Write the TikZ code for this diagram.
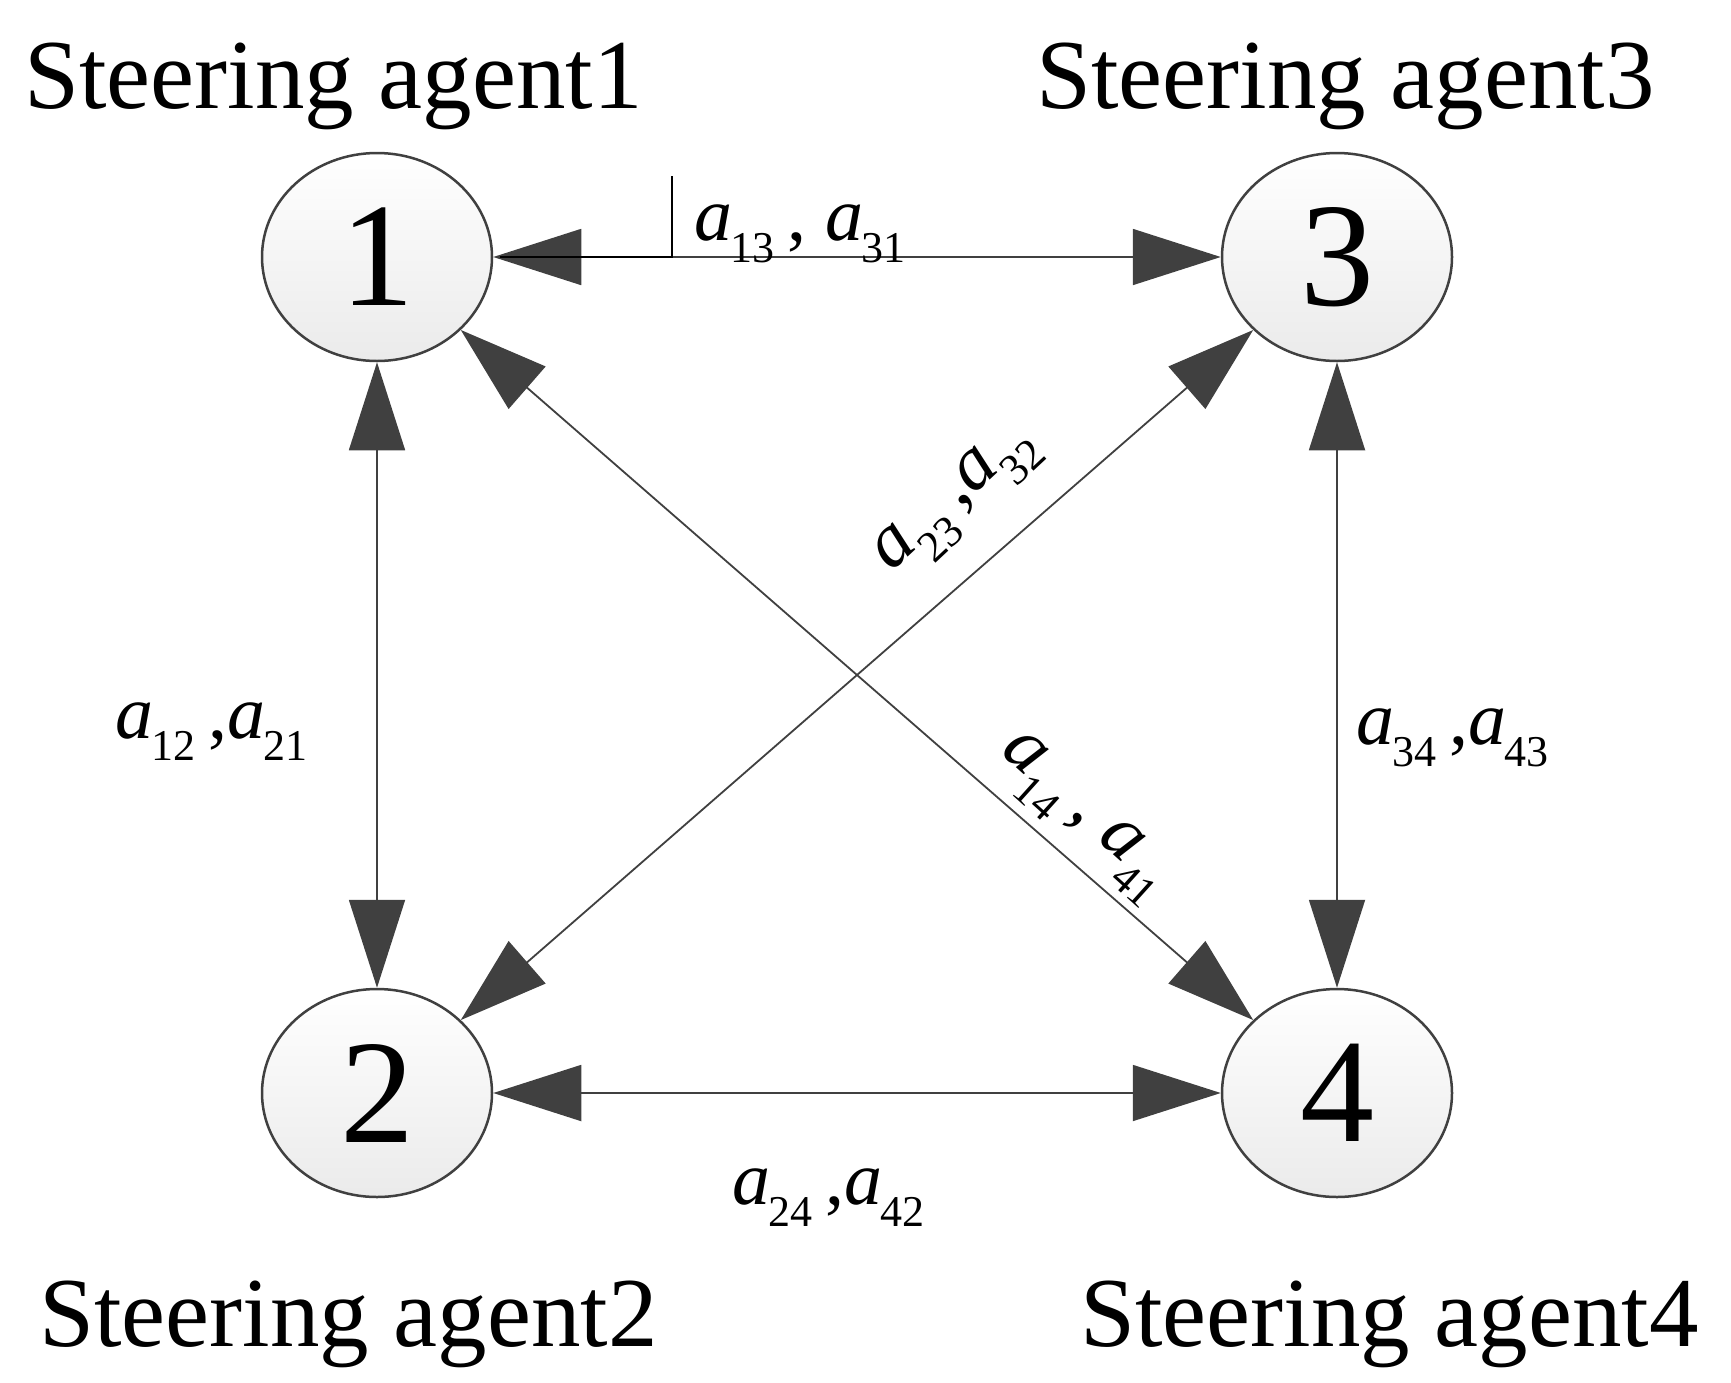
\documentclass[tikz,border=0pt]{standalone}
\usepackage{fontspec}
\setmainfont{Liberation Serif}
\usetikzlibrary{shapes.geometric,arrows.meta}
\newcommand{\asub}[1]{\textit{a}\kern-0.02em\raisebox{-0.3em}{\fontsize{44}{44}\selectfont #1}}
\begin{document}
\begin{tikzpicture}[x=1pt,y=-1pt,
  nd/.style={ellipse,draw=black!75,line width=2.5pt,minimum width=230pt,minimum height=208pt,inner sep=0pt,top color=white,bottom color=black!8,font=\fontsize{148}{148}\selectfont},
  ttl/.style={anchor=base west,inner sep=0pt,font=\fontsize{99}{99}\selectfont},
  lab/.style={inner sep=0pt,font=\fontsize{76}{76}\selectfont},
  ed/.style={draw=black!75,line width=1.8pt,{Triangle[length=88pt,width=56pt]}-{Triangle[length=88pt,width=56pt]},color=black!75}]
\useasboundingbox (0,0) rectangle (1731,1382);
\node[nd] (n1) at (377,257) {1};
\node[nd] (n3) at (1337,257) {3};
\node[nd] (n2) at (377,1093) {2};
\node[nd] (n4) at (1337,1093) {4};
\node[ttl] (t1) at (24,108) {Steering agent1};
\node[ttl] (t3) at (1036,108) {Steering agent3};
\node[ttl] (t2) at (39,1346) {Steering agent2};
\node[ttl] (t4) at (1080,1346) {Steering agent4};
\draw[ed] (n1) -- (n3);
\draw[ed] (n1) -- (n2);
\draw[ed] (n3) -- (n4);
\draw[ed] (n2) -- (n4);
\draw[ed] (n2) -- (n3);
\draw[ed] (n1) -- (n4);
\coordinate (k1) at (672,176);
\coordinate (k2) at (672,257);
\coordinate (k3) at (500,257);
\draw[black,line width=1.8pt] (k1) -- (k2) -- (k3);
\node[lab,anchor=base west] (l13) at (694,240) {\asub{13}\,,\ \asub{31}};
\node[lab,anchor=base west] (l12) at (115,738) {\asub{12}\,,\asub{21}};
\node[lab,anchor=base west] (l34) at (1356,744) {\asub{34}\,,\asub{43}};
\node[lab,anchor=base west] (l24) at (732,1204) {\asub{24}\,,\asub{42}};
\node[lab,rotate=43] (l23) at (958,502) {\asub{23}\,,\asub{32}};
\node[lab,rotate=-42] (l14) at (1082,818) {\asub{14}\,,\ \asub{41}};
\end{tikzpicture}
\end{document}
